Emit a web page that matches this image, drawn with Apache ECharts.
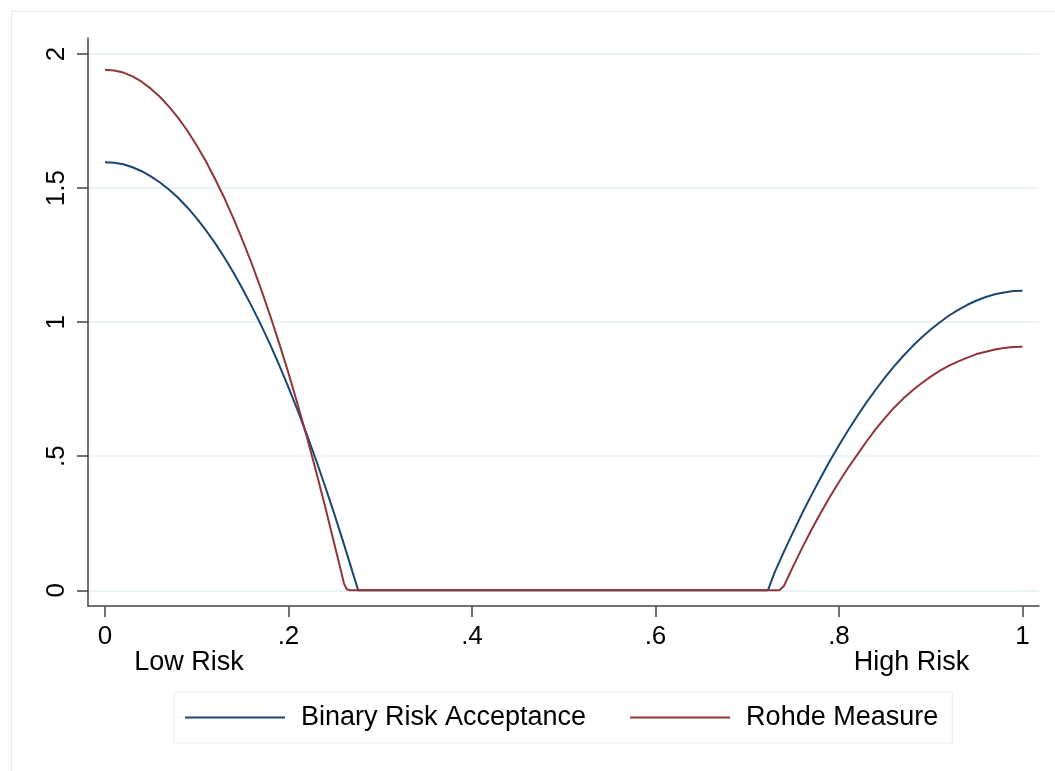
<!DOCTYPE html>
<html>
<head>
<meta charset="utf-8">
<script src="https://cdn.jsdelivr.net/npm/echarts@6/dist/echarts.min.js"></script>
<style>
html,body{margin:0;padding:0;background:#fff;}
#chart{width:1055px;height:771px;}
</style>
</head>
<body>
<div id="chart"></div>
<script>
// ---- data ----
var seriesNames = ['Binary Risk Acceptance', 'Rohde Measure'];
var blueX = [0,0.01,0.02,0.03,0.04,0.05,0.06,0.07,0.08,0.09,0.10,0.11,0.12,0.13,0.14,0.15,0.16,0.17,0.18,0.19,0.20,0.21,0.22,0.23,0.24,0.25,0.26,0.27,0.276,
             0.7225,0.73,0.74,0.75,0.76,0.77,0.78,0.79,0.80,0.81,0.82,0.83,0.84,0.85,0.86,0.87,0.88,0.89,0.90,0.91,0.92,0.93,0.94,0.95,0.96,0.97,0.98,0.99,1.00];
var blueY = [1.597,1.595,1.589,1.578,1.563,1.544,1.521,1.494,1.463,1.427,1.387,1.343,1.295,1.242,1.185,1.124,1.059,0.990,0.917,0.839,0.757,0.671,0.581,0.486,0.387,0.284,0.177,0.066,0,
             0,0.068,0.144,0.217,0.288,0.355,0.420,0.482,0.541,0.597,0.650,0.701,0.748,0.793,0.835,0.874,0.910,0.943,0.973,1.000,1.025,1.046,1.065,1.081,1.094,1.104,1.111,1.116,1.117];
var redX = [0,0.01,0.02,0.03,0.04,0.05,0.06,0.07,0.08,0.09,0.10,0.11,0.12,0.13,0.14,0.15,0.16,0.17,0.18,0.19,0.20,0.21,0.22,0.23,0.24,0.25,0.256,0.2605,0.2635,0.267,
            0.735,0.74,0.75,0.76,0.77,0.78,0.79,0.80,0.81,0.82,0.83,0.84,0.85,0.86,0.87,0.88,0.89,0.90,0.91,0.92,0.93,0.94,0.95,0.96,0.97,0.98,0.99,1.00];
var redY = [1.942,1.939,1.931,1.917,1.897,1.871,1.840,1.803,1.761,1.713,1.659,1.600,1.534,1.464,1.387,1.305,1.218,1.124,1.025,0.920,0.810,0.694,0.572,0.445,0.312,0.173,0.090,0.025,0.004,0,
            0,0.016,0.089,0.159,0.226,0.288,0.348,0.404,0.457,0.506,0.555,0.601,0.642,0.681,0.715,0.745,0.772,0.797,0.819,0.838,0.854,0.868,0.881,0.890,0.898,0.904,0.907,0.908];
var xTicks = [0,0.2,0.4,0.6,0.8,1];
var yTicks = [0,0.5,1,1.5,2];
var sideLabels = ['Low Risk', 'High Risk'];

function pairs(xs, ys){ return xs.map(function(x,i){ return [x, ys[i]]; }); }
function fmt(v){ var s = String(Math.round(v*10)/10); if (s.indexOf('0.') === 0) s = s.slice(1); return s; }

var FONT = "'Liberation Sans', Arial, sans-serif";
var chart = echarts.init(document.getElementById('chart'), null, {renderer:'canvas'});
chart.setOption({
  backgroundColor: '#ffffff',
  animation: false,
  grid: {left: 88, top: 38, width: 951, height: 568, containLabel: false},
  xAxis: {
    type: 'value', min: -0.0185, max: 1.018,
    axisLine: {show: true, onZero: false, lineStyle: {color: '#444', width: 1.5}},
    axisTick: {show: true, length: 11, customValues: xTicks, lineStyle: {color: '#444', width: 1.5}},
    axisLabel: {show: true, customValues: xTicks, formatter: fmt, margin: 18, color: '#000', fontSize: 26, fontFamily: FONT, lineHeight: 26},
    splitLine: {show: false}
  },
  yAxis: {
    type: 'value', min: -0.0586, max: 2.06,
    axisLine: {show: true, onZero: false, lineStyle: {color: '#444', width: 1.5}},
    axisTick: {show: true, length: 11, customValues: yTicks, lineStyle: {color: '#444', width: 1.5}},
    axisLabel: {show: true, customValues: yTicks, formatter: fmt, rotate: 90, margin: 18, color: '#000', fontSize: 26, fontFamily: FONT, lineHeight: 26},
    splitLine: {show: true, lineStyle: {color: '#e6eff1', width: 1.5}}
  },
  legend: {
    left: 174, top: 692, orient: 'horizontal',
    icon: 'rect', itemWidth: 100, itemHeight: 2, itemGap: 44,
    padding: [12, 14, 12, 11],
    borderColor: '#e3edf0', borderWidth: 1, backgroundColor: '#fff',
    textStyle: {fontSize: 27, lineHeight: 26, color: '#000', fontFamily: FONT, padding: [0,0,0,11]},
    data: seriesNames
  },
  graphic: [
    {type: 'rect', z: -10, shape: {x: 11.5, y: 11.5, width: 1100, height: 800}, style: {fill: 'none', stroke: '#e3edf0', lineWidth: 1}},
    {type: 'text', x: 189, y: 663, style: {text: sideLabels[0], fill: '#000', font: "27px " + FONT, align: 'center', verticalAlign: 'middle'}},
    {type: 'text', x: 911.5, y: 663, style: {text: sideLabels[1], fill: '#000', font: "27px " + FONT, align: 'center', verticalAlign: 'middle'}}
  ],
  series: [
    {name: seriesNames[0], type: 'line', data: pairs(blueX, blueY), symbol: 'none', smooth: false,
     lineStyle: {color: '#1a476f', width: 2}, itemStyle: {color: '#1a476f'}},
    {name: seriesNames[1], type: 'line', data: pairs(redX, redY), symbol: 'none', smooth: false,
     lineStyle: {color: '#90353b', width: 2}, itemStyle: {color: '#90353b'}}
  ]
});
</script>
</body>
</html>
